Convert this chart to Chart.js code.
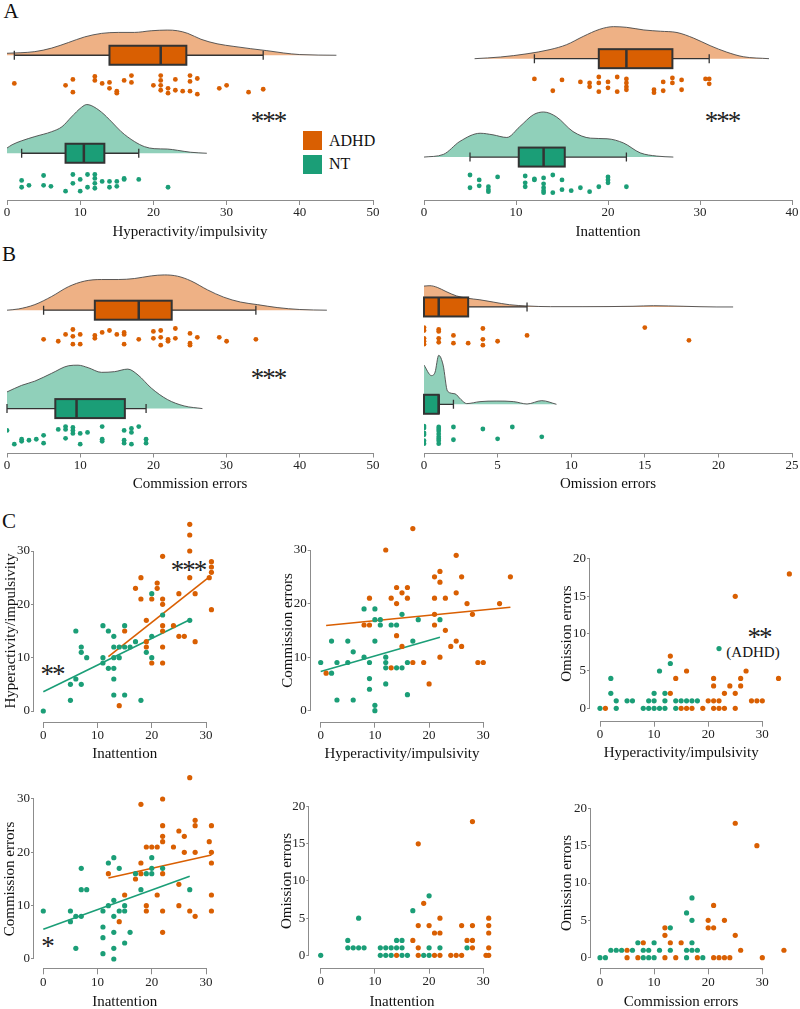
<!DOCTYPE html>
<html>
<head>
<meta charset="utf-8">
<title>ADHD vs NT</title>
<script src="https://cdn.jsdelivr.net/npm/chart.js@4.4.1/dist/chart.umd.min.js"></script>
<style>
  html, body { margin: 0; padding: 0; background: #fff; }
  body { position: relative; width: 800px; height: 1009px; overflow: hidden; font-family: 'Liberation Serif', 'Times New Roman', serif; color: #111; }
  canvas { position: absolute; }
  .lbl { position: absolute; transform: translate(-50%, -50%); white-space: nowrap; line-height: 1; }
  .panel { font-size: 21px; }
  .star { font-size: 27px; margin-top: 5px; letter-spacing: -2px; color: #222; }
  .note { font-size: 15px; }
  .key { position: absolute; width: 19px; height: 19px; }
  .keytxt { position: absolute; font-size: 16px; line-height: 1; transform: translateY(-50%); }
</style>
</head>
<body>
<div class="lbl panel" style="left:11px;top:11px">A</div>
<div class="lbl panel" style="left:9px;top:254px">B</div>
<div class="lbl panel" style="left:9px;top:521px">C</div>

<div class="lbl star" style="left:268px;top:116px">***</div>
<div class="lbl star" style="left:722px;top:116px">***</div>
<div class="lbl star" style="left:268px;top:373px">***</div>
<div class="lbl star" style="left:188px;top:565px">***</div>
<div class="lbl star" style="left:52px;top:669px">**</div>
<div class="lbl star" style="left:759px;top:632px">**</div>
<div class="lbl note" style="left:753px;top:652px">(ADHD)</div>
<div class="lbl star" style="left:47px;top:941px">*</div>

<div class="key" style="left:303px;top:131px;background:#D95F02"></div>
<div class="keytxt" style="left:329px;top:141px">ADHD</div>
<div class="key" style="left:303px;top:155px;background:#1B9E77"></div>
<div class="keytxt" style="left:329px;top:164px">NT</div>

<script>
// ---------- data: hyperactivity/impulsivity (A left)
var hiTicks = [0, 10, 20, 30, 40, 50];
var hiAdhd = [1, 8, 9, 9, 12, 12, 13, 14, 14, 15, 15, 16, 17, 17, 20, 21, 21, 21, 21, 22, 22, 23, 23, 24, 25, 25, 25, 26, 26, 29, 30, 33, 35];
var hiAdhdJit = [-1, 1, -5, 8, -8, -4, -1, -2, 4, 7, 9, -4, -9, -2, 1, -9, -4, 1, 6, 4, 9, -5, 6, 7, -9, -3, 7, -6, 10, 4, 1, 8, 5];
var hiNt = [2, 2, 3, 5, 5, 6, 8, 9, 9, 10, 10, 11, 11, 12, 12, 12, 12, 13, 14, 14, 15, 15, 16, 16, 18, 22];
var hiNtJit = [-3, 4, 2, -8, 2, 3, 8, -9, 0, -4, 8, -9, 4, -9, -5, 0, 5, -2, -2, 4, -2, 3, -5, -4, -4, 4];
var hiAdhdBox = [1, 14, 21, 24.5, 35];
var hiNtBox = [2, 8, 10.5, 13.3, 18];
var hiAdhdDx = [0, 3.8, 6.1, 8.4, 10.6, 12.9, 15.2, 17.4, 19.7, 21.9, 23.3, 24.7, 26.5, 28.7, 31, 33.3, 35.5, 37.8, 40, 45];
var hiAdhdDh = [2, 3.7, 7.3, 13, 18.7, 22.3, 23.3, 23.3, 25, 25.7, 25, 22.3, 16.3, 11.7, 9, 6.7, 4.7, 2.3, 0.7, 0];
var hiNtDx = [0, 0.7, 2, 3.8, 6.1, 7.5, 8.8, 10.2, 10.9, 11.5, 12.9, 14.3, 15.6, 17.4, 18.8, 20.1, 21.9, 23.3, 25.1, 27.3];
var hiNtDh = [5.3, 8.7, 12.7, 17, 22, 27, 37, 47, 49.7, 48.7, 42, 32, 22, 12, 6.7, 4.7, 4.3, 3, 1, 0];

// ---------- data: inattention (A right)
var inTicks = [0, 10, 20, 30, 40];
var inAdhd = [12, 14, 15, 17, 18, 18, 19, 19, 19, 20, 20, 21, 21, 22, 22, 22, 22, 25, 25, 26, 26, 27, 27, 28, 28, 30.6, 31, 31];
var inAdhdJit = [-6, 6, -5, -3, -2, 2, -8, -2, 7, -3, 3, -8, 7, -6, -2, 2, 5, 5, 8, -3, 6, -7, -2, -5, 5, -6, -6, -1];
var inNt = [5, 5, 6, 6, 7, 7, 7, 8, 11, 11, 11, 12, 12, 13, 13, 13, 13, 13, 14, 14, 15, 15, 16, 17, 18, 19, 20, 20, 20, 22];
var inNtJit = [-9, 4, -4, 2, 3, 6, 8, -7, -8, -1, 3, -5, -4, -6, 0, 4, 7, 9, -9, 9, -4, 6, 7, 4, 8, 3, -7, -4, -1, 3];
var inAdhdBox = [12, 19, 22, 27, 31];
var inNtBox = [5, 10.3, 13, 15.3, 22];
var inAdhdDx = [5.5, 8.3, 11.2, 13.7, 15.5, 17.3, 19.1, 20.6, 22, 23.9, 25.7, 27.5, 29.3, 31.1, 32.9, 34.7, 37.5];
var inAdhdDh = [0, 1.7, 5, 9.3, 14.3, 22.7, 30, 32.7, 32, 29.3, 28, 26.7, 21, 13.3, 6.7, 2, 0];
var inNtDx = [0, 2.1, 3.9, 6.1, 7.5, 9, 10.4, 11.9, 13, 14.4, 16.2, 18.1, 19.9, 21.7, 23.5, 25.3, 27.1];
var inNtDh = [0, 2.7, 16, 24.3, 22.7, 20, 31, 43.3, 46, 41, 26, 19.3, 18.7, 14.3, 4.3, 1, 0];

// ---------- data: commission errors (B left)
var ceTicks = [0, 10, 20, 30, 40, 50];
var ceAdhd = [5, 7, 8, 9, 9, 9, 10, 10, 12, 12, 13, 14, 15, 16, 16, 16, 18, 20, 20, 21, 21, 21, 22, 22, 23, 23, 25, 25, 25, 26, 29, 30, 34];
var ceAdhdJit = [2, 4, -3, -8, -1, 7, -3, 7, -2, 1, -5, -7, -3, -5, -3, 7, 2, -6, 1, -7, 0, 8, 2, 4, -9, 1, -4, 6, 8, 0, 0, 4, 2];
var ceNt = [0, 1, 2, 2, 3, 4, 5, 5, 7, 8, 8, 8, 9, 9, 9, 10, 10, 11, 13, 13, 13, 16, 16, 16, 17, 17, 17, 18, 19, 19];
var ceNtJit = [-5, 9, 4, 6, 5, 4, 0, 8, -6, -9, -6, 3, -8, -5, -2, -2, 9, -3, -9, 4, 6, -5, 5, 8, -7, -3, 9, -9, 4, 8];
var ceAdhdBox = [5, 12, 18, 22.5, 34];
var ceNtBox = [0, 6.6, 9.5, 16.1, 19];
var ceAdhdDx = [0, 1.6, 3.8, 6.1, 8.4, 10.6, 12.9, 15.2, 17.4, 19.7, 21.5, 23.3, 25.1, 27.4, 29.6, 31.9, 34.2, 36.9, 40, 43.7];
var ceAdhdDh = [0, 1.3, 5.7, 14, 24, 29.7, 31.3, 31.3, 32.3, 35, 36, 34.7, 30, 20.7, 13.3, 8.3, 5.7, 2.7, 0.7, 0];
var ceNtDx = [0, 2, 3.8, 6.1, 8.4, 9.7, 11.1, 12.9, 14.7, 16.5, 17.9, 19.7, 21.9, 24.2, 26.7];
var ceNtDh = [17, 23.7, 28, 36, 43.7, 44.3, 41.7, 37, 37.7, 40.3, 34.3, 21, 9.3, 2.7, 0];

// ---------- data: omission errors (B right)
var omTicks = [0, 5, 10, 15, 20, 25];
var omAdhd = [0, 0, 0, 0, 0, 1, 1, 1, 1, 2, 2, 3, 4, 4, 4, 5, 7, 15, 18];
var omAdhdJit = [-9, -6, 2, 5, 8, -7, -5, 2, 6, -1, 7, 7, -8, 3, 9, 5, -1, -9, 4];
var omNt = [0, 0, 0, 0, 0, 0, 1, 1, 1, 1, 1, 1, 1, 1, 2, 2, 4, 5, 6, 8];
var omNtJit = [-9, -7, -2, 0, 6, 9, -8, -6, -4, -1, 2, 4, 6, 9, -8, 5, -6, 4, -8, 2];
var omAdhdBox = [0, 0, 1, 3, 7];
var omNtBox = [0, 0, 1, 1, 2];
var omAdhdDx = [0, 0.4, 0.9, 1.5, 2.2, 2.9, 3.8, 4.7, 5.8, 7, 8.6, 10.8, 14.2, 15.6, 17.6, 19.9, 21];
var omAdhdDh = [21.3, 21.7, 20, 15.7, 11.3, 9, 7.3, 5, 2.3, 1, 0.3, 0.3, 0.7, 1.3, 0.7, 0, 0];
var omNtDx = [0, 0.5, 0.75, 1, 1.3, 1.6, 2.1, 2.5, 2.9, 3.8, 4.9, 6.1, 7, 8, 9];
var omNtDh = [40, 29.3, 32.7, 50, 40, 13.3, 10.7, 5, 0.7, 2.7, 3.3, 2.7, 0.3, 3.7, 0];

// ---------- data: correlations (C)
var t30 = [0, 10, 20, 30];
var t20 = [0, 5, 10, 15, 20];

// inattention (x) vs hyperactivity (y)
var c1NtX = [0, 5, 5, 6, 6, 7, 7, 7, 8, 11, 11, 11, 12, 12, 13, 13, 13, 13, 13, 13, 14, 14, 15, 15, 15, 16, 17, 18, 19, 20, 20, 20, 22, 27];
var c1NtY = [0, 2, 5, 15, 6, 12, 11, 5, 10, 16, 10, 9, 15, 8, 14, 12, 10, 8, 6, 3, 12, 10, 16, 12, 3, 12, 13, 2, 11, 22, 14, 10, 18, 17];
var c1AdhdX = [14, 15, 17, 18, 18, 19, 19, 19, 20, 20, 21, 21, 22, 22, 22, 22, 22, 22, 22, 24, 25, 26, 25, 27, 27, 27, 27, 28, 28, 30.6, 31, 31, 31, 31];
var c1AdhdY = [1, 15, 23, 25, 21, 17, 13, 12, 21, 9, 24, 23, 29, 21, 20, 16, 15, 12, 9, 16, 14, 14, 22, 35, 33, 30, 25, 22, 13, 25, 28, 27, 26, 19];
var c1NtFitX = [0, 27], c1NtFitY = [3.6, 17.1];
var c1AdhdFitX = [12, 30.8], c1AdhdFitY = [10.2, 25.3];

// hyperactivity (x) vs commission (y)
var c2NtX = [0, 2, 2, 3, 3, 5, 5, 6, 6, 8, 8, 9, 9, 9, 10, 10, 10, 10, 10, 11, 11, 12, 12, 12, 12, 13, 14, 14, 15, 15, 16, 16, 17, 18, 22];
var c2NtY = [9, 7, 13, 9, 2, 13, 9, 11, 2, 19, 10, 9, 6, 4, 19, 17, 13, 1, 0, 17, 16, 10, 9, 8, 5, 16, 16, 8, 18, 8, 9, 3, 13, 17, 17];
var c2AdhdX = [1, 8, 9, 9, 12, 13, 14, 14, 14, 13, 15, 15, 16, 16, 17, 17, 19, 20, 21, 21, 21, 21, 22, 22, 22, 23, 23, 24, 25, 25, 25, 26, 26, 27, 28, 29, 30, 33, 35];
var c2AdhdY = [7, 16, 21, 16, 30, 21, 23, 20, 14, 8, 22, 12, 23, 21, 34, 9, 9, 5, 25, 21, 18, 16, 26, 24, 10, 21, 15, 12, 29, 22, 13, 25, 12, 20, 18, 9, 9, 20, 25];
var c2NtFitX = [0, 22], c2NtFitY = [7.3, 13.7];
var c2AdhdFitX = [1, 35], c2AdhdFitY = [15.9, 19.3];

// hyperactivity (x) vs omission (y)
var c3NtX = [0, 3, 8, 9, 10, 11, 12, 14, 3, 5, 6, 9, 10, 12, 14, 15, 16, 17, 18, 2, 10, 12, 2, 11, 13, 22];
var c3NtY = [0, 0, 0, 0, 0, 0, 0, 0, 1, 1, 1, 1, 1, 1, 1, 1, 1, 1, 1, 2, 2, 2, 4, 5, 6, 8];
var c3AdhdX = [1, 15, 16, 17, 19, 21, 22, 23, 25, 20, 21, 22, 28, 29, 30, 13, 23, 25, 21, 24, 26, 14, 21, 26, 33, 16, 27, 13, 25, 35];
var c3AdhdY = [0, 0, 0, 0, 0, 0, 0, 0, 0, 1, 1, 1, 1, 1, 1, 2, 2, 2, 3, 3, 3, 4, 4, 4, 4, 5, 5, 7, 15, 18];

// inattention (x) vs commission (y)
var c4NtX = [0, 5, 5, 6, 6, 7, 7, 7, 8, 11, 11, 11, 11, 12, 12, 13, 13, 13, 13, 13, 13, 14, 14, 15, 15, 15, 16, 17, 18, 19, 20, 20, 20, 22, 27];
var c4NtY = [9, 9, 7, 8, 2, 17, 13, 8, 13, 9, 6, 4, 1, 18, 10, 19, 11, 8, 5, 2, 0, 17, 9, 10, 9, 3, 5, 16, 13, 16, 19, 17, 16, 17, 13];
var c4AdhdX = [12, 14, 15, 17, 18, 18, 18, 19, 19, 19, 20, 21, 21, 22, 22, 22, 22, 22, 22, 22, 24, 25, 25, 25, 26, 26, 27, 27, 28, 28, 28, 28, 30.6, 31, 31, 31, 31, 31];
var c4AdhdY = [16, 7, 12, 15, 29, 18, 16, 21, 10, 9, 21, 21, 12, 30, 25, 23, 22, 16, 9, 5, 21, 24, 14, 10, 23, 20, 34, 9, 26, 25, 20, 8, 22, 25, 20, 18, 12, 9];
var c4NtFitX = [0, 27], c4NtFitY = [5.6, 15.5];
var c4AdhdFitX = [12, 31], c4AdhdFitY = [15.2, 19.5];

// inattention (x) vs omission (y)
var c5NtX = [0, 11, 12, 13, 15, 16, 19, 20, 5, 6, 7, 8, 11, 12, 13, 14, 15, 20, 22, 27, 5, 14, 15, 7, 17, 20];
var c5NtY = [0, 0, 0, 0, 0, 0, 0, 0, 1, 1, 1, 1, 1, 1, 1, 1, 1, 1, 1, 1, 2, 2, 2, 5, 6, 8];
var c5AdhdX = [14, 18, 21, 22, 24, 25, 26, 30.5, 31, 18, 28, 31, 17, 27, 28, 21, 22, 31, 18, 20, 26, 28, 31, 22, 31, 19, 18, 28];
var c5AdhdY = [0, 0, 0, 0, 0, 0, 0, 0, 0, 1, 1, 1, 2, 2, 2, 3, 3, 3, 4, 4, 4, 4, 4, 5, 5, 7, 15, 18];

// commission (x) vs omission (y)
var c6NtX = [0, 1, 8, 9, 10, 16, 19, 2, 3, 4, 6, 8, 9, 11, 13, 16, 17, 18, 7, 10, 17, 13, 17, 16, 17];
var c6NtY = [0, 0, 0, 0, 0, 0, 0, 1, 1, 1, 1, 1, 1, 1, 1, 1, 1, 1, 2, 2, 2, 4, 5, 6, 8];
var c6AdhdX = [5, 7, 12, 14, 18, 21, 22, 23, 24, 30, 5, 26, 34, 8, 13, 15, 12, 25, 12, 20, 21, 20, 23, 21, 29, 25];
var c6AdhdY = [0, 0, 0, 0, 0, 0, 0, 0, 0, 0, 1, 1, 1, 2, 2, 2, 3, 3, 4, 4, 4, 5, 5, 7, 15, 18];

// ---------- styles
var ORANGE = '#D95F02', TEAL = '#1B9E77';
var ORANGE_SOFT = '#EEB185', TEAL_SOFT = '#90D0BA';
var AXIS = '#8c8c8c', INK = '#222';
var SERIF = "'Liberation Serif', 'Times New Roman', serif";

Chart.defaults.font.family = SERIF;
Chart.defaults.font.size = 13;
Chart.defaults.color = INK;

function makeCanvas(left, top, w, h) {
	var c = document.createElement('canvas');
	c.width = w;
	c.height = h;
	c.style.left = left + 'px';
	c.style.top = top + 'px';
	c.style.width = w + 'px';
	c.style.height = h + 'px';
	document.body.appendChild(c);
	return c;
}

function fixedTicks(vals) {
	return function(scale) {
		scale.ticks = vals.map(function(v) { return {value: v}; });
	};
}

function xAxis(min, max, vals, title, tickLen, height) {
	return {
		type: 'linear', min: min, max: max,
		afterBuildTicks: fixedTicks(vals),
		afterFit: function(s) { s.height = height; },
		grid: {drawOnChartArea: false, tickLength: tickLen, color: AXIS},
		border: {display: false},
		ticks: {padding: 0, autoSkip: false, maxRotation: 0, color: INK, font: {size: 13}},
		title: {display: !!title, text: title || '', color: '#111', font: {size: 15}, padding: {top: 4, bottom: 4}}
	};
}

function yAxis(min, max, vals, width) {
	return {
		type: 'linear', min: min, max: max,
		afterBuildTicks: fixedTicks(vals),
		afterFit: function(s) { s.width = width; },
		grid: {drawOnChartArea: false, tickLength: 3, color: AXIS},
		border: {display: false},
		ticks: {padding: 1, autoSkip: false, color: INK, font: {size: 13}}
	};
}

// axis lines only from the first to the last tick; optional titles centred on that span
var axisLines = {
	id: 'axisLines',
	afterDraw: function(chart, args, opts) {
		var ctx = chart.ctx, area = chart.chartArea;
		var span = {};
		ctx.save();
		ctx.strokeStyle = AXIS;
		ctx.lineWidth = 1;
		ctx.beginPath();
		['x', 'y'].forEach(function(id) {
			var s = chart.scales[id];
			if (!s.options.display) return;
			var a = s.getPixelForValue(s.ticks[0].value);
			var b = s.getPixelForValue(s.ticks[s.ticks.length - 1].value);
			span[id] = (a + b) / 2;
			if (id === 'x') {
				var yy = Math.round(area.bottom) + 0.5;
				ctx.moveTo(a, yy); ctx.lineTo(b, yy);
			} else {
				var xx = Math.round(area.left) - 0.5;
				ctx.moveTo(xx, a); ctx.lineTo(xx, b);
			}
		});
		ctx.stroke();
		if (opts && opts.xText) {
			ctx.fillStyle = '#111';
			ctx.font = '15px ' + SERIF;
			ctx.textAlign = 'center';
			ctx.textBaseline = 'middle';
			ctx.fillText(opts.xText, span.x, opts.xAt);
			ctx.translate(opts.yAt, span.y);
			ctx.rotate(-Math.PI / 2);
			ctx.fillText(opts.yText, 0, 0);
		}
		ctx.restore();
	}
};

// box + whiskers of the raincloud plots
var rainBoxes = {
	id: 'rainBoxes',
	afterDatasetsDraw: function(chart, args, opts) {
		var ctx = chart.ctx, xs = chart.scales.x, ys = chart.scales.y;
		ctx.save();
		opts.boxes.forEach(function(b) {
			var p = b.stats.map(function(v) { return xs.getPixelForValue(v); });
			var yc = ys.getPixelForValue(b.y), h = 9.5, cap = 4.5;
			ctx.strokeStyle = '#333';
			ctx.lineWidth = 1.3;
			ctx.beginPath();
			ctx.moveTo(p[0], yc); ctx.lineTo(p[1], yc);
			ctx.moveTo(p[3], yc); ctx.lineTo(p[4], yc);
			ctx.moveTo(p[0], yc - cap); ctx.lineTo(p[0], yc + cap);
			ctx.moveTo(p[4], yc - cap); ctx.lineTo(p[4], yc + cap);
			ctx.stroke();
			ctx.fillStyle = b.fill;
			ctx.fillRect(p[1], yc - h, p[3] - p[1], 2 * h);
			ctx.lineWidth = 2;
			ctx.strokeRect(p[1], yc - h, p[3] - p[1], 2 * h);
			ctx.lineWidth = 2.5;
			ctx.beginPath();
			ctx.moveTo(p[2], yc - h); ctx.lineTo(p[2], yc + h);
			ctx.stroke();
		});
		ctx.restore();
	}
};

function points(xs, ys, color, r) {
	return {
		type: 'scatter',
		data: xs.map(function(x, i) { return {x: x, y: ys[i]}; }),
		backgroundColor: color, borderWidth: 0, pointRadius: r
	};
}

function fitLine(xs, ys, color) {
	return {
		type: 'line',
		data: xs.map(function(x, i) { return {x: x, y: ys[i]}; }),
		borderColor: color, borderWidth: 1.6, pointRadius: 0, fill: false
	};
}

function density(xs, hs, base, color) {
	return {
		type: 'line',
		data: xs.map(function(x, i) { return {x: x, y: base - hs[i]}; }),
		fill: {value: base}, backgroundColor: color,
		borderColor: '#4a4a4a', borderWidth: 0.9, pointRadius: 0,
		cubicInterpolationMode: 'monotone'
	};
}

function baseOptions() {
	return {
		responsive: false, animation: false, events: [],
		plugins: {legend: {display: false}, tooltip: {enabled: false}}
	};
}

// L: x0/x1 = pixel of first/last tick, axisY, titleY; groups carry base/mid rows
function rainPanel(L, vals, title, groups) {
	var left = Math.floor(L.x0 - 30), right = Math.ceil(L.x1 + 30);
	var top = Math.floor(L.axisY - 200);
	var height = Math.round(L.titleY + 13 - top);
	var xh = top + height - L.axisY;
	var canvas = makeCanvas(left, top, right - left, height);
	var datasets = [];
	groups.forEach(function(g) { datasets.push(density(g.dx, g.dh, g.base, g.soft)); });
	groups.forEach(function(g) {
		datasets.push(points(g.vals, g.jit.map(function(j) { return g.mid + j; }), g.dark, 2.4));
	});
	var opt = baseOptions();
	opt.layout = {padding: {left: L.x0 - left, right: right - L.x1, top: 0, bottom: 0}};
	opt.scales = {
		x: xAxis(vals[0], vals[vals.length - 1], vals, title, 5, xh),
		y: {display: false, reverse: true, min: top, max: L.axisY}
	};
	opt.plugins.rainBoxes = {boxes: groups.map(function(g) { return {stats: g.box, y: g.base, fill: g.dark}; })};
	new Chart(canvas, {type: 'scatter', data: {datasets: datasets}, options: opt, plugins: [rainBoxes, axisLines]});
}

// L: pixel of first/last tick on each axis, gap to the axis lines, title centres
function scatterPanel(L, xv, yv, xTitle, yTitle, datasets) {
	var ppx = (L.x1 - L.x0) / (xv[xv.length - 1] - xv[0]);
	var ppy = (L.y0 - L.y1) / (yv[yv.length - 1] - yv[0]);
	var maxX = -Infinity, maxY = -Infinity;
	datasets.forEach(function(d) {
		d.data.forEach(function(p) { maxX = Math.max(maxX, p.x); maxY = Math.max(maxY, p.y); });
	});
	var aL = L.x0 - L.gx, aB = L.y0 + L.gy;
	var aR = Math.max(L.x1 + L.gx, L.x0 + (maxX - xv[0]) * ppx + 4);
	var aT = Math.min(L.y1 - L.gy, L.y0 - (maxY - yv[0]) * ppy - 4);
	var left = Math.round(L.yTitleX - 13), top = Math.floor(aT - 14);
	var right = Math.ceil(aR + 10), bottom = Math.round(L.xTitleY + 13);
	var canvas = makeCanvas(left, top, right - left, bottom - top);
	var opt = baseOptions();
	opt.layout = {padding: {left: 0, top: aT - top, right: right - aR, bottom: 0}};
	opt.scales = {
		x: xAxis(xv[0] - L.gx / ppx, xv[0] + (aR - L.x0) / ppx, xv, null, 6, bottom - aB),
		y: yAxis(yv[0] - L.gy / ppy, yv[0] + (L.y0 - aT) / ppy, yv, aL - left)
	};
	opt.plugins.axisLines = {xText: xTitle, xAt: L.xTitleY - top, yText: yTitle, yAt: L.yTitleX - left};
	new Chart(canvas, {type: 'scatter', data: {datasets: datasets}, options: opt, plugins: [axisLines]});
}

// ---------- panel A
rainPanel({x0: 7, x1: 373, axisY: 200, titleY: 231.5}, hiTicks, 'Hyperactivity/impulsivity', [
	{vals: hiAdhd, jit: hiAdhdJit, box: hiAdhdBox, dx: hiAdhdDx, dh: hiAdhdDh, base: 52.3, mid: 82, dark: ORANGE, soft: ORANGE_SOFT},
	{vals: hiNt, jit: hiNtJit, box: hiNtBox, dx: hiNtDx, dh: hiNtDh, base: 152.3, mid: 183, dark: TEAL, soft: TEAL_SOFT}
]);
rainPanel({x0: 424, x1: 792, axisY: 200, titleY: 231.5}, inTicks, 'Inattention', [
	{vals: inAdhd, jit: inAdhdJit, box: inAdhdBox, dx: inAdhdDx, dh: inAdhdDh, base: 55.8, mid: 82.5, dark: ORANGE, soft: ORANGE_SOFT},
	{vals: inNt, jit: inNtJit, box: inNtBox, dx: inNtDx, dh: inNtDh, base: 156.2, mid: 183.5, dark: TEAL, soft: TEAL_SOFT}
]);

// ---------- panel B
rainPanel({x0: 7, x1: 373, axisY: 452.5, titleY: 484}, ceTicks, 'Commission errors', [
	{vals: ceAdhd, jit: ceAdhdJit, box: ceAdhdBox, dx: ceAdhdDx, dh: ceAdhdDh, base: 307.3, mid: 335, dark: ORANGE, soft: ORANGE_SOFT},
	{vals: ceNt, jit: ceNtJit, box: ceNtBox, dx: ceNtDx, dh: ceNtDh, base: 407.7, mid: 435, dark: TEAL, soft: TEAL_SOFT}
]);
rainPanel({x0: 424, x1: 792, axisY: 452.5, titleY: 484}, omTicks, 'Omission errors', [
	{vals: omAdhd, jit: omAdhdJit, box: omAdhdBox, dx: omAdhdDx, dh: omAdhdDh, base: 304, mid: 334, dark: ORANGE, soft: ORANGE_SOFT},
	{vals: omNt, jit: omNtJit, box: omNtBox, dx: omNtDx, dh: omNtDh, base: 403.3, mid: 434.5, dark: TEAL, soft: TEAL_SOFT}
]);

// ---------- panel C
scatterPanel({x0: 43.3, x1: 206, y0: 711, y1: 551, gx: 9.3, gy: 11, yTitleX: 11, xTitleY: 754},
	t30, t30, 'Inattention', 'Hyperactivity/impulsivity', [
	points(c1NtX, c1NtY, TEAL, 2.6), points(c1AdhdX, c1AdhdY, ORANGE, 2.6),
	fitLine(c1NtFitX, c1NtFitY, TEAL), fitLine(c1AdhdFitX, c1AdhdFitY, ORANGE)
]);
scatterPanel({x0: 320.7, x1: 483.3, y0: 710.7, y1: 550, gx: 10, gy: 11, yTitleX: 288, xTitleY: 754},
	t30, t30, 'Hyperactivity/impulsivity', 'Commission errors', [
	points(c2NtX, c2NtY, TEAL, 2.6), points(c2AdhdX, c2AdhdY, ORANGE, 2.6),
	fitLine(c2NtFitX, c2NtFitY, TEAL), fitLine(c2AdhdFitX, c2AdhdFitY, ORANGE)
]);
scatterPanel({x0: 600, x1: 762.3, y0: 708.3, y1: 559, gx: 10, gy: 12.4, yTitleX: 567, xTitleY: 753},
	t30, t20, 'Hyperactivity/impulsivity', 'Omission errors', [
	points(c3NtX, c3NtY, TEAL, 2.6), points(c3AdhdX, c3AdhdY, ORANGE, 2.6)
]);
scatterPanel({x0: 43.3, x1: 206, y0: 959, y1: 799, gx: 9.3, gy: 9.3, yTitleX: 10, xTitleY: 1001.7},
	t30, t30, 'Inattention', 'Commission errors', [
	points(c4NtX, c4NtY, TEAL, 2.6), points(c4AdhdX, c4AdhdY, ORANGE, 2.6),
	fitLine(c4NtFitX, c4NtFitY, TEAL), fitLine(c4AdhdFitX, c4AdhdFitY, ORANGE)
]);
scatterPanel({x0: 320.7, x1: 483.3, y0: 955.3, y1: 806.7, gx: 11.4, gy: 12.4, yTitleX: 287, xTitleY: 1002},
	t30, t20, 'Inattention', 'Omission errors', [
	points(c5NtX, c5NtY, TEAL, 2.6), points(c5AdhdX, c5AdhdY, ORANGE, 2.6)
]);
scatterPanel({x0: 600, x1: 762.3, y0: 957.7, y1: 808.3, gx: 9, gy: 10.6, yTitleX: 567, xTitleY: 1001.7},
	t30, t20, 'Commission errors', 'Omission errors', [
	points(c6NtX, c6NtY, TEAL, 2.6), points(c6AdhdX, c6AdhdY, ORANGE, 2.6)
]);
</script>
</body>
</html>
